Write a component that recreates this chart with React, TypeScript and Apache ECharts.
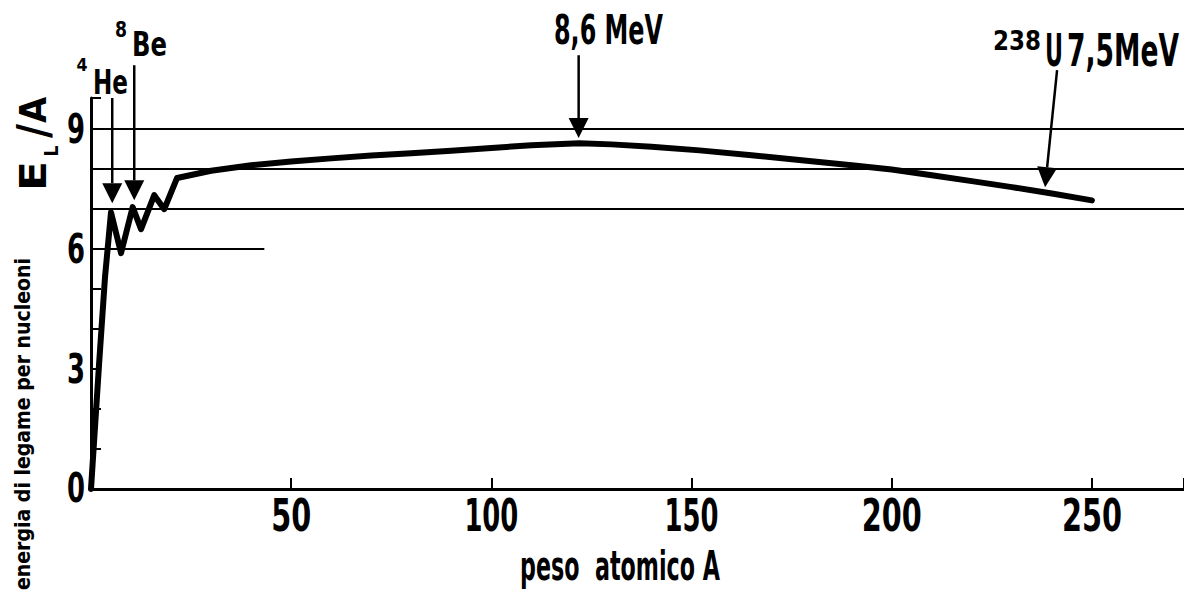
import React, { useEffect, useRef } from 'react';
import * as echarts from 'echarts';

const FONT = "'DejaVu Sans Condensed', 'Liberation Sans Narrow', sans-serif";
const WEIGHT = 'bold';
const CAP = 0.729; // cap height / font size

// peso atomico A
const MASS_NUMBERS = [0, 2, 3.5, 5, 7.5, 10.4, 12.5, 15.8, 18.3, 21.5, 30, 40, 50, 60, 70, 80, 90, 100, 110, 122, 130, 140, 152, 165, 180, 190, 200, 210, 220, 230, 240, 250];
// energia di legame per nucleone (MeV)
const BINDING = [0, 3.1, 5.3, 6.92, 5.9, 7.05, 6.5, 7.35, 7.0, 7.78, 7.96, 8.1, 8.19, 8.27, 8.34, 8.4, 8.46, 8.53, 8.6, 8.65, 8.62, 8.56, 8.47, 8.35, 8.2, 8.1, 7.99, 7.85, 7.7, 7.55, 7.39, 7.22];

const REF_LEVELS = [7, 8, 9];
const SHORT_LEVEL = 6;
const SHORT_LEVEL_END = 43.3;
const X_TICK_LABELS = [50, 100, 150, 200, 250];
const Y_TICK_LABELS = [0, 3, 6, 9];
const X_MAX = 273;
const Y_MAX = 9.78;
const X_STEP = 50;
const Y_STEP = 1;

// arrows: [tail A, tail E] -> [tip A, tip E]
const ARROW_TAILS: number[][] = [[5.3, 9.78], [10.8, 10.6], [121.8, 10.85], [241.3, 10.48]];
const ARROW_TIPS: number[][] = [[5.3, 7.15], [10.8, 7.22], [121.8, 8.78], [238.3, 7.55]];

let measureCtx: CanvasRenderingContext2D | null = null;
function measure(text: string, fs: number) {
  if (!measureCtx) measureCtx = document.createElement('canvas').getContext('2d');
  measureCtx!.font = `${WEIGHT} ${fs}px ${FONT}`;
  return measureCtx!.measureText(text).width;
}

// text sized by cap height and squeezed to a target width
function fitText(text: string, x: number, y: number, cap: number, width: number, align = 'center', rot = 0) {
  const fs = cap / CAP;
  const sx = width / measure(text, fs);
  return {
    type: 'text', x, y, scaleX: sx, rotation: rot,
    style: { text, x: 0, y: 0, fontSize: fs, fontWeight: WEIGHT, fontFamily: FONT, fill: '#000', align, verticalAlign: 'middle' },
  };
}

export default function App() {
  const ref = useRef<HTMLDivElement>(null);
  useEffect(() => {
    const chart = echarts.init(ref.current!, null, { renderer: 'svg' });
    chart.setOption({
      animation: false,
      backgroundColor: '#fff',
      grid: { left: 91, right: 0, top: 98, bottom: 103, containLabel: false },
      xAxis: {
        type: 'value', min: 0, max: X_MAX, interval: X_STEP,
        axisLine: { show: true, onZero: false, lineStyle: { color: '#000', width: 3 } },
        axisTick: { show: true, inside: true, length: 11, lineStyle: { color: '#000', width: 2 } },
        axisLabel: { show: false },
        splitLine: { show: false },
      },
      yAxis: {
        type: 'value', min: 0, max: Y_MAX, interval: Y_STEP,
        axisLine: { show: true, onZero: false, lineStyle: { color: '#000', width: 3 } },
        axisTick: { show: true, inside: true, length: 10, lineStyle: { color: '#000', width: 2 } },
        axisLabel: { show: false },
        splitLine: { show: false },
      },
      series: [{
        type: 'line',
        data: MASS_NUMBERS.map((a, i) => [a, BINDING[i]]),
        showSymbol: false, symbol: 'none', smooth: false,
        lineStyle: { color: '#000', width: 6, cap: 'round', join: 'round' },
        markLine: {
          silent: true, symbol: ['none', 'none'], label: { show: false },
          lineStyle: { color: '#000', width: 2, type: 'solid' },
          data: [
            ...REF_LEVELS.map((v) => ({ yAxis: v })),
            [{ coord: [0, SHORT_LEVEL] }, { coord: [SHORT_LEVEL_END, SHORT_LEVEL] }],
          ],
        },
      }],
    });

    const px = (p: number[]) => chart.convertToPixel({ gridIndex: 0 }, p) as number[];
    const arrow = (tail: number[], tip: number[]) => {
      const [x1, y1] = px(tail);
      const [x2, y2] = px(tip);
      const dx = x2 - x1, dy = y2 - y1;
      const len = Math.hypot(dx, dy);
      const ux = dx / len, uy = dy / len;
      const hl = 20, hw = 10;
      const bx = x2 - ux * hl, by = y2 - uy * hl;
      return [
        { type: 'line', shape: { x1, y1, x2: bx, y2: by }, style: { stroke: '#000', lineWidth: 2.5 } },
        { type: 'polygon', shape: { points: [[x2, y2], [bx - uy * hw, by + ux * hw], [bx + uy * hw, by - ux * hw]] }, style: { fill: '#000' } },
      ];
    };
    const R = Math.PI / 2;
    const graphics: any[] = [];
    ARROW_TAILS.forEach((t, i) => graphics.push(...arrow(t, ARROW_TIPS[i])));

    // tick labels placed through the axes' own scales
    X_TICK_LABELS.forEach((v) => {
      const s = String(v);
      const [x, y] = px([v, 0]);
      graphics.push(fitText(s, x, y + 27, 32, 20 * s.length - (s.startsWith('1') ? 6 : 0)));
    });
    Y_TICK_LABELS.forEach((v) => {
      const [x, y] = px([0, v]);
      graphics.push(fitText(String(v), x - 6, y - 1, 30, 18, 'right'));
    });

    graphics.push(
      fitText('4', 82, 65, 13, 11),
      fitText('He', 110.5, 82.5, 25, 35),
      fitText('8', 121, 30, 16, 12),
      fitText('Be', 149.5, 45, 24, 35),
      fitText('8,6 MeV', 608.5, 30, 30, 109),
      fitText('238', 1017, 40, 20, 48),
      fitText('U', 1054, 51, 32, 18),
      fitText('7,5MeV', 1123, 51, 32, 112),
      fitText('peso  atomico A', 620, 566, 30, 200),
      fitText('energia di legame per nucleoni', 22, 424, 16, 332, 'center', R),
      fitText('E', 33, 176, 27, 30, 'center', R),
      fitText('L', 51, 151, 14, 11, 'center', R),
      fitText('/', 34, 131, 32, 14, 'center', R),
      fitText('A', 33, 110, 27, 26, 'center', R),
    );
    chart.setOption({ graphic: graphics });
    return () => chart.dispose();
  }, []);
  return <div ref={ref} style={{ position: 'fixed', left: 0, top: 0, width: 1184, height: 592, background: '#fff' }} />;
}
